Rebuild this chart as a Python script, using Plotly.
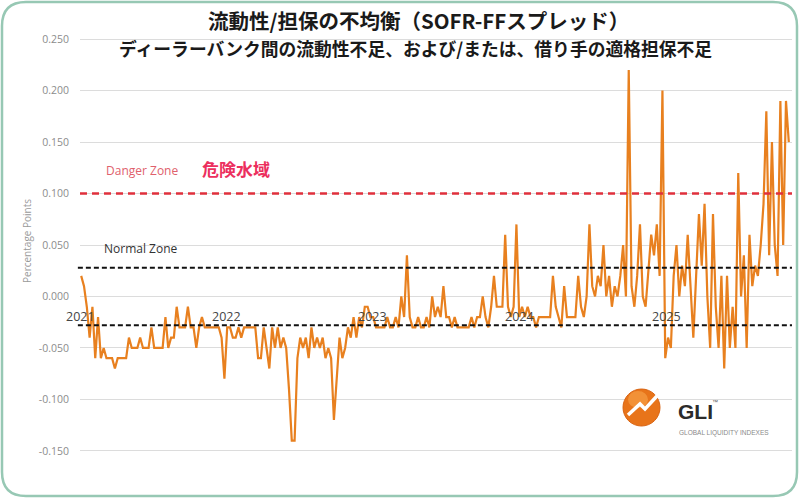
import plotly.graph_objects as go
import pandas as pd

# ---------------- data (weekly readings, percentage points) ----------------
start_date = "2021-01-04"
spread_2021 = [0.02, 0.01, -0.01, -0.04, -0.01, -0.06, -0.02, -0.06, -0.05, -0.06,
               -0.06, -0.06, -0.07, -0.06, -0.06, -0.06, -0.06, -0.04, -0.05, -0.05,
               -0.05, -0.04, -0.05, -0.05, -0.05, -0.03, -0.05, -0.05, -0.05, -0.05,
               -0.02, -0.05, -0.04, -0.04, -0.01, -0.03, -0.03, -0.03, -0.01, -0.03,
               -0.03, -0.05, -0.03, -0.02, -0.03, -0.03, -0.03, -0.03, -0.03, -0.03,
               -0.04, -0.08]
spread_2022 = [-0.03, -0.03, -0.04, -0.04, -0.03, -0.04, -0.03, -0.03, -0.03, -0.03,
               -0.03, -0.06, -0.06, -0.03, -0.05, -0.07, -0.03, -0.05, -0.03, -0.05,
               -0.04, -0.05, -0.09, -0.14, -0.14, -0.06, -0.04, -0.05, -0.04, -0.06,
               -0.03, -0.05, -0.04, -0.05, -0.04, -0.06, -0.05, -0.06, -0.12, -0.08,
               -0.04, -0.06, -0.05, -0.03, -0.04, -0.02, -0.04, -0.02, -0.03, -0.01,
               -0.01, -0.02]
spread_2023 = [-0.02, -0.03, -0.03, -0.03, -0.03, -0.02, -0.03, -0.03, -0.02, -0.03,
               0.00, -0.02, 0.04, -0.02, -0.03, -0.03, -0.02, -0.03, -0.03, -0.02,
               -0.03, 0.00, -0.02, -0.01, -0.02, 0.01, -0.02, -0.02, -0.03, -0.02,
               -0.03, -0.03, -0.03, -0.03, -0.03, -0.02, -0.03, -0.02, -0.02, 0.00,
               -0.02, -0.03, -0.01, 0.02, -0.01, -0.01, -0.01, 0.06, -0.01, -0.02,
               -0.01, 0.07]
spread_2024 = [-0.02, -0.01, -0.02, -0.01, -0.02, -0.02, -0.03, -0.02, -0.02, -0.02,
               -0.02, -0.02, 0.02, -0.01, -0.02, -0.03, 0.01, -0.02, -0.02, -0.02,
               -0.02, 0.02, -0.01, -0.02, 0.00, 0.07, 0.01, 0.00, 0.02, 0.01,
               0.05, 0.00, 0.02, -0.01, 0.01, 0.00, 0.02, 0.05, 0.00, 0.22,
               0.01, -0.01, 0.02, 0.07, 0.00, -0.01, 0.03, 0.06, 0.04, 0.07,
               0.02, 0.20]
spread_2025 = [-0.06, -0.04, -0.05, 0.02, 0.05, 0.00, 0.03, 0.01, 0.06, 0.01,
               -0.04, 0.02, 0.08, 0.03, 0.09, 0.00, -0.05, 0.08, -0.01, -0.05,
               0.02, -0.07, 0.02, -0.05, -0.01, -0.05, 0.12, 0.00, 0.04, -0.05,
               0.06, 0.01, 0.03, 0.02, 0.05, 0.09, 0.18, 0.04, 0.15, 0.05,
               0.02, 0.19, 0.05, 0.19, 0.15]

year_labels = ["2021", "2022", "2023", "2024", "2025"]
y_tick_values = [-0.15, -0.10, -0.05, 0.0, 0.05, 0.10, 0.15, 0.20, 0.25]
y_tick_labels = ["-0.150", "-0.100", "-0.050", "0.000", "0.050", "0.100", "0.150", "0.200", "0.250"]
danger_level = 0.10
normal_band = [0.028, -0.028]

values = spread_2021 + spread_2022 + spread_2023 + spread_2024 + spread_2025
dates = pd.date_range(start_date, periods=len(values), freq="7D")

# ---------------- layout helpers ----------------
W, H = 800, 498
ML, MR, MT, MB = 80, 8, 34, 42
PW, PH = W - ML - MR, H - MT - MB


def px(x):
    return (x - ML) / PW


def py(y):
    return 1 - (y - MT) / PH


CJK = "Noto Sans CJK JP"
LAT = "Open Sans"

fig = go.Figure()
fig.add_trace(go.Scatter(x=dates, y=values, mode="lines",
                         line=dict(color="#e8801f", width=2.2),
                         hoverinfo="x+y", showlegend=False))

shapes = []
# danger line
shapes.append(dict(type="line", xref="paper", yref="y", x0=0, x1=1,
                   y0=danger_level, y1=danger_level, layer="above",
                   line=dict(color="#e0303c", width=2.5, dash="7px,5px")))
for lvl in normal_band:
    shapes.append(dict(type="line", xref="paper", yref="y", x0=-0.003, x1=1,
                       y0=lvl, y1=lvl, layer="above",
                       line=dict(color="#111111", width=2, dash="5px,3px")))


# card border (rounded)
def rr_path(x0, y0, x1, y1, r):
    pts = [("M", (x0 + r, y0)), ("L", (x1 - r, y0)), ("Q", (x1, y0), (x1, y0 + r)),
           ("L", (x1, y1 - r)), ("Q", (x1, y1), (x1 - r, y1)), ("L", (x0 + r, y1)),
           ("Q", (x0, y1), (x0, y1 - r)), ("L", (x0, y0 + r)), ("Q", (x0, y0), (x0 + r, y0))]
    s = ""
    for item in pts:
        cmd = item[0]
        coords = " ".join(f"{px(a):.5f},{py(b):.5f}" for a, b in item[1:])
        s += f"{cmd} {coords} "
    return s + "Z"


shapes.append(dict(type="path", xref="paper", yref="paper",
                   path=rr_path(2, 2, 797, 496, 24),
                   line=dict(color="#97c8b4", width=2.5), fillcolor="rgba(0,0,0,0)"))

# logo sphere
shapes.append(dict(type="circle", xref="paper", yref="paper",
                   x0=px(623), x1=px(660), y0=py(426), y1=py(389),
                   fillcolor="#e8741a", line=dict(color="#d9620f", width=1)))
shapes.append(dict(type="circle", xref="paper", yref="paper",
                   x0=px(628), x1=px(648), y0=py(408), y1=py(391),
                   fillcolor="rgba(250,170,80,0.55)", line=dict(width=0)))
arrow_pts = [(628, 415), (640, 404), (645, 409), (657, 396)]
arrow_path = "M " + " L ".join(f"{px(a):.5f},{py(b):.5f}" for a, b in arrow_pts)
shapes.append(dict(type="path", xref="paper", yref="paper", path=arrow_path,
                   line=dict(color="white", width=3.5)))

annotations = [
    dict(text="<b>流動性/担保の不均衡（SOFR-FFスプレッド）</b>", xref="paper", yref="paper",
         x=px(418), y=py(20), xanchor="center", yanchor="middle", showarrow=False,
         font=dict(family=CJK, size=20.5, color="#1a1a1a")),
    dict(text="<b>ディーラーバンク間の流動性不足、および/または、借り手の適格担保不足</b>",
         xref="paper", yref="paper", x=px(415), y=py(48), xanchor="center", yanchor="middle",
         showarrow=False, font=dict(family=CJK, size=17.8, color="#1a1a1a")),
    dict(text="Percentage Points", xref="paper", yref="paper", x=px(27), y=py(241),
         textangle=-90, xanchor="center", yanchor="middle", showarrow=False,
         font=dict(family=LAT, size=10, color="#9a9a9a")),
    dict(text="Danger Zone", xref="paper", yref="paper", x=px(142), y=py(170),
         xanchor="center", yanchor="middle", showarrow=False,
         font=dict(family=LAT, size=12, color="#e0606c")),
    dict(text="<b>危険水域</b>", xref="paper", yref="paper", x=px(236), y=py(169),
         xanchor="center", yanchor="middle", showarrow=False,
         font=dict(family=CJK, size=17, color="#ec2f5e")),
    dict(text="Normal Zone", xref="paper", yref="paper", x=px(141), y=py(248),
         xanchor="center", yanchor="middle", showarrow=False,
         font=dict(family=LAT, size=12, color="#333333")),
    dict(text="<b>GLI</b>", xref="paper", yref="paper", x=px(676), y=py(411),
         xanchor="left", yanchor="middle", showarrow=False,
         font=dict(family="Liberation Sans", size=21, color="#2b2b2b")),
    dict(text="™", xref="paper", yref="paper", x=px(710), y=py(402),
         xanchor="left", yanchor="middle", showarrow=False,
         font=dict(family="Liberation Sans", size=6, color="#555")),
    dict(text="GLOBAL LIQUIDITY INDEXES", xref="paper", yref="paper", x=px(677), y=py(433),
         xanchor="left", yanchor="middle", showarrow=False,
         font=dict(family="Liberation Sans", size=6.5, color="#8a8a8a")),
]
for lab in year_labels:
    annotations.append(dict(text=lab, xref="x", yref="y", x=f"{lab}-01-01", y=-0.019,
                            xanchor="center", yanchor="middle", showarrow=False,
                            font=dict(family=LAT, size=12.5, color="#444444")))

fig.update_layout(
    width=W, height=H, margin=dict(l=ML, r=MR, t=MT, b=MB),
    paper_bgcolor="white", plot_bgcolor="white",
    shapes=shapes, annotations=annotations, showlegend=False,
    xaxis=dict(type="date", range=["2021-01-01", "2025-11-11"], visible=False,
               showgrid=False, zeroline=False),
    yaxis=dict(range=[-0.155, 0.255], tickvals=y_tick_values, ticktext=y_tick_labels,
               showgrid=True, gridcolor="#dcdcdc", gridwidth=1, zeroline=False,
               showline=False, ticks="", ticklabelstandoff=10,
               tickfont=dict(family=LAT, size=10.5, color="#8c8c8c")),
)

fig.write_html("out.html")
